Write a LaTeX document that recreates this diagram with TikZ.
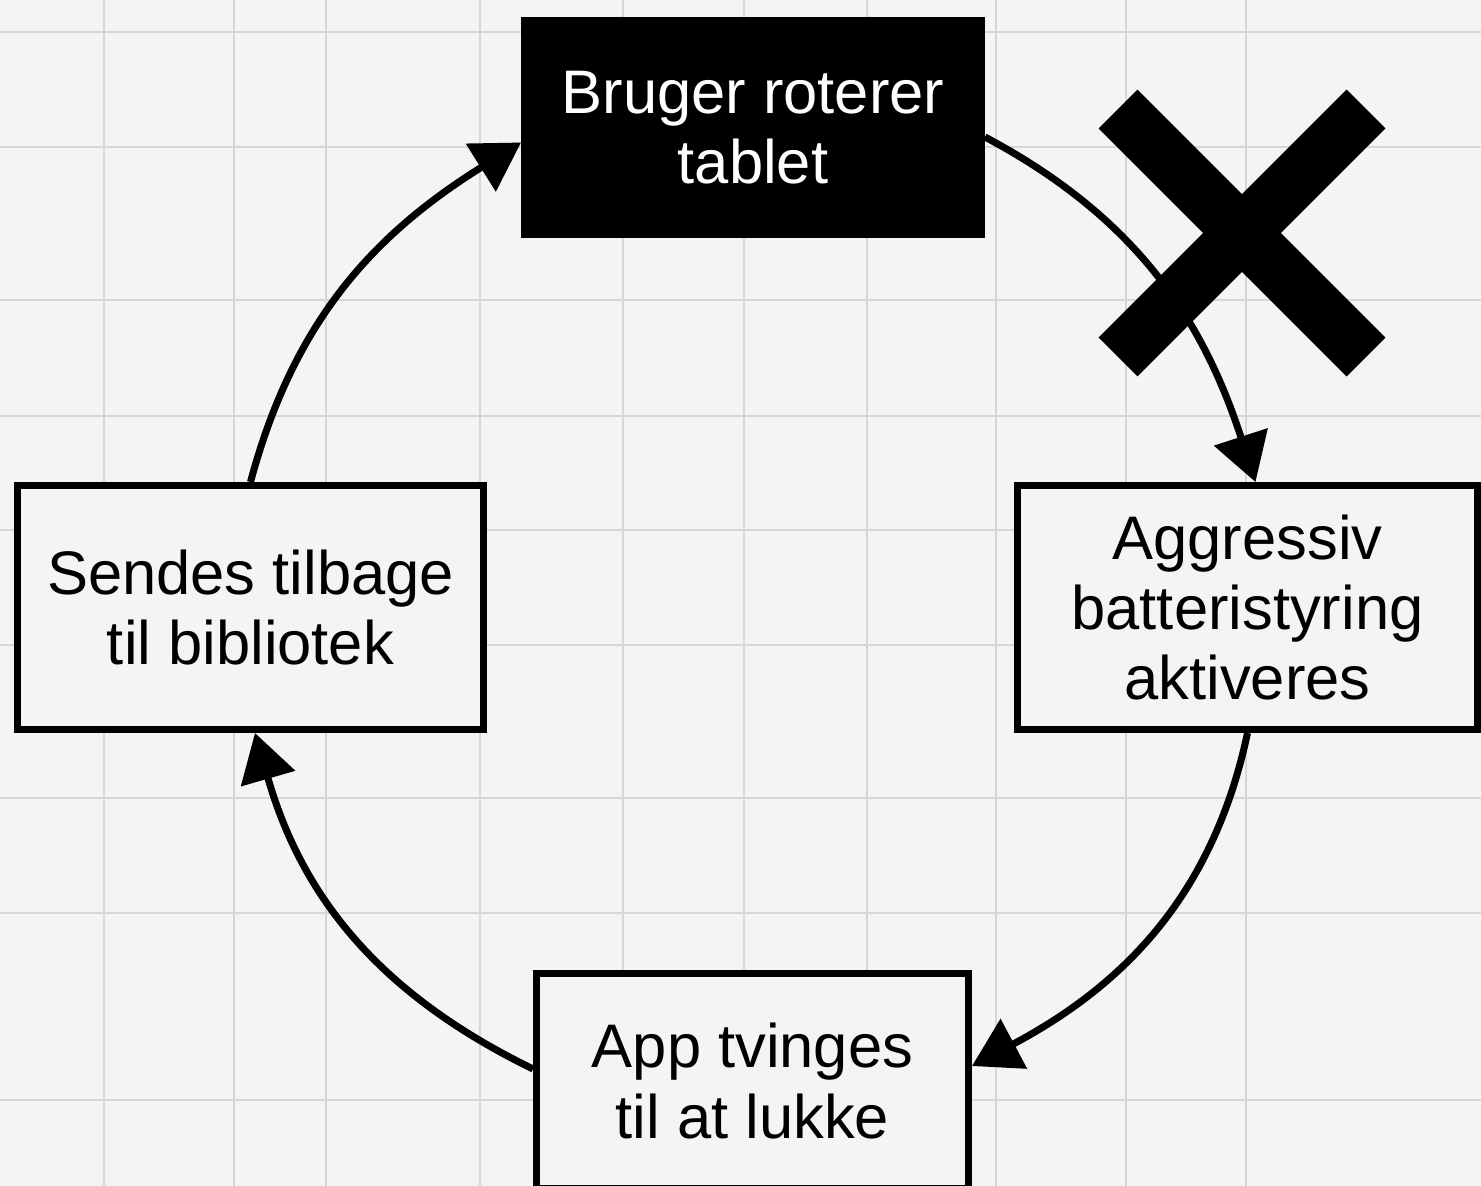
\documentclass[tikz,border=0pt]{standalone}
\usepackage{fontspec}
\setmainfont{Liberation Sans}
\usetikzlibrary{arrows.meta}
\definecolor{bgcol}{HTML}{F4F4F4}
\definecolor{gridcol}{HTML}{D6D6D6}
\tikzset{
  box/.style={draw=black, line width=3.7pt, fill=bgcol, rectangle, inner sep=0pt,
              align=center, font=\fontsize{35pt}{40pt}\selectfont, text=black},
  darkbox/.style={box, fill=black, text=white},
  flow/.style={line width=4pt, -{Triangle[length=0.95cm, width=1.1cm]}},
  cross/.style={line width=1.1cm, black},
  gridline/.style={gridcol, line width=1.1pt}
}
\begin{document}
\begin{tikzpicture}[x=0.02cm, y=-0.02cm]
\useasboundingbox (0,0) rectangle (1481,1186);
\fill[bgcol] (0,0) rectangle (1481,1186);
% grid
\foreach \gx in {104,234,326,480,623,744,867,996,1126,1246}
  \draw[gridline] (\gx,0) -- (\gx,1186);
\foreach \gy in {32,147,300,416,530,645,798,913,1100}
  \draw[gridline] (0,\gy) -- (1481,\gy);
% boxes
\node[darkbox, minimum width=9.15cm, minimum height=4.29cm] (top) at (753,127.5) {Bruger roterer\\tablet};
\node[box, minimum width=9.33cm, minimum height=4.89cm] (left) at (250.5,607.5) {Sendes tilbage\\til bibliotek};
\node[box, minimum width=9.21cm, minimum height=4.89cm] (right) at (1247.5,607.5) {Aggressiv\\batteristyring\\aktiveres};
\node[box, minimum width=8.65cm, minimum height=4.31cm] (bot) at (752.5,1081) {App tvinges\\til at lukke};
% connectors
\draw[flow] ([yshift=-0.19cm]top.east) to[out=-28, in=108] ([xshift=0.16cm]right.north);
\draw[flow] (right.south) to[out=-102, in=28] ([yshift=0.3cm]bot.east);
\draw[flow] ([yshift=0.24cm]bot.west) to[out=154, in=-74] ([xshift=0.09cm]left.south);
\draw[flow] (left.north) to[out=75, in=-148] ([yshift=-0.3cm]top.west);
% big X
\coordinate (xa) at (1118,109);
\coordinate (xb) at (1366,357);
\coordinate (xc) at (1366,109);
\coordinate (xd) at (1118,357);
\draw[cross] (xa) -- (xb);
\draw[cross] (xc) -- (xd);
\end{tikzpicture}
\end{document}
